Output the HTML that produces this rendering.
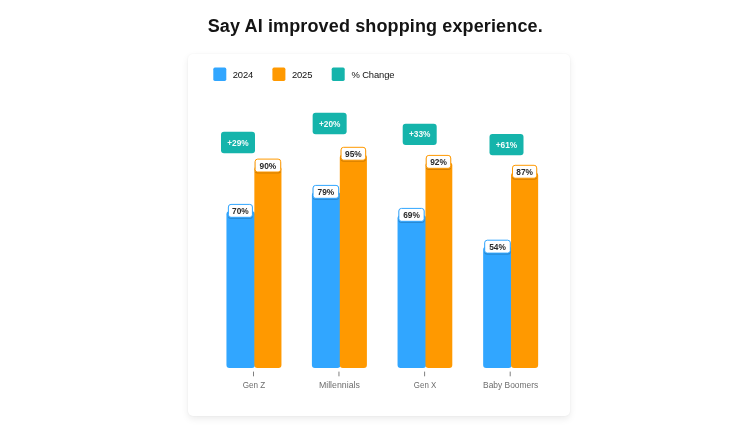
<!DOCTYPE html>
<html lang="en"><head><meta charset="utf-8"><title>Say AI improved shopping experience.</title>
<style>
html,body{margin:0;padding:0;}
body{width:750px;height:428px;background:#fff;position:relative;overflow:hidden;font-family:"Liberation Sans",sans-serif;}
h1{position:absolute;margin:0;white-space:nowrap;font-weight:bold;color:#141414;}
.card{position:absolute;left:188px;top:54px;width:381.5px;height:362px;background:#fff;border-radius:5px;box-shadow:0 3px 7px rgba(0,0,0,.08),0 0 2px rgba(0,0,0,.05);}
svg{position:absolute;left:0;top:0;}
svg text{font-family:"Liberation Sans",sans-serif;}
.lg{font-size:9.4px;fill:#111;letter-spacing:-0.1px;}
.lt{font-size:8.8px;font-weight:bold;fill:#2a2a2a;text-anchor:middle;}
.bt{font-size:8.3px;font-weight:bold;fill:#f4fcfb;text-anchor:middle;}
.ct{font-size:9.1px;fill:#6e6e6e;text-anchor:middle;}
</style></head><body>
<h1 id="title" style="left:207.7px;top:14.4px;font-size:18px;line-height:24px;letter-spacing:0.13px;">Say AI improved shopping experience.</h1>
<div class="card"></div>
<svg width="750" height="428" viewBox="0 0 750 428">
<rect x="213.3" y="67.6" width="13" height="13.3" rx="1.6" fill="#31a6ff"/><text class="lg" x="232.7" y="77.9">2024</text>
<rect x="272.4" y="67.6" width="13" height="13.3" rx="1.6" fill="#ff9900"/><text class="lg" x="291.9" y="77.9">2025</text>
<rect x="331.7" y="67.6" width="13" height="13.3" rx="1.6" fill="#15b4ab"/><text class="lg" x="351.4" y="77.9">% Change</text>
<rect x="226.45" y="211.30" width="28.5" height="156.60" rx="3" fill="#31a6ff"/>
<rect x="254.35" y="166.20" width="27.1" height="201.70" rx="3" fill="#ff9900"/>
<rect x="227.90" y="205.00" width="25.0" height="13.9" rx="3" fill="#000" opacity=".17"/><rect x="228.40" y="204.40" width="24.0" height="12.9" rx="2.6" fill="#fff" stroke="#31a6ff" stroke-width="1"/><text class="lt" x="240.40" y="214.10" textLength="16.7" lengthAdjust="spacingAndGlyphs">70%</text>
<rect x="254.60" y="159.70" width="26.6" height="13.9" rx="3" fill="#000" opacity=".17"/><rect x="255.10" y="159.10" width="25.6" height="12.9" rx="2.6" fill="#fff" stroke="#ff9900" stroke-width="1"/><text class="lt" x="267.90" y="168.80" textLength="16.7" lengthAdjust="spacingAndGlyphs">90%</text>
<rect x="221.0" y="131.85" width="34" height="21.3" rx="3" fill="#15b4ab"/><text class="bt" x="238.00" y="145.60">+29%</text>
<rect x="253.00" y="371.6" width="1" height="4.7" fill="#808080"/>
<text class="ct" x="253.95" y="388.1" textLength="22.6" lengthAdjust="spacingAndGlyphs">Gen Z</text>
<rect x="311.90" y="192.30" width="28.5" height="175.60" rx="3" fill="#31a6ff"/>
<rect x="339.80" y="154.40" width="27.1" height="213.50" rx="3" fill="#ff9900"/>
<rect x="312.55" y="186.00" width="26.6" height="13.9" rx="3" fill="#000" opacity=".17"/><rect x="313.05" y="185.40" width="25.6" height="12.9" rx="2.6" fill="#fff" stroke="#31a6ff" stroke-width="1"/><text class="lt" x="325.85" y="195.10" textLength="16.7" lengthAdjust="spacingAndGlyphs">79%</text>
<rect x="340.55" y="147.90" width="25.6" height="13.9" rx="3" fill="#000" opacity=".17"/><rect x="341.05" y="147.30" width="24.6" height="12.9" rx="2.6" fill="#fff" stroke="#ff9900" stroke-width="1"/><text class="lt" x="353.35" y="157.00" textLength="16.7" lengthAdjust="spacingAndGlyphs">95%</text>
<rect x="312.65" y="112.85" width="34" height="21.3" rx="3" fill="#15b4ab"/><text class="bt" x="329.65" y="126.60">+20%</text>
<rect x="338.45" y="371.6" width="1" height="4.7" fill="#808080"/>
<text class="ct" x="339.40" y="388.1" textLength="41.0" lengthAdjust="spacingAndGlyphs">Millennials</text>
<rect x="397.55" y="215.30" width="28.5" height="152.60" rx="3" fill="#31a6ff"/>
<rect x="425.45" y="162.50" width="26.85" height="205.40" rx="3" fill="#ff9900"/>
<rect x="398.35" y="209.00" width="26.3" height="13.9" rx="3" fill="#000" opacity=".17"/><rect x="398.85" y="208.40" width="25.3" height="12.9" rx="2.6" fill="#fff" stroke="#31a6ff" stroke-width="1"/><text class="lt" x="411.50" y="218.10" textLength="16.7" lengthAdjust="spacingAndGlyphs">69%</text>
<rect x="425.73" y="156.00" width="25.5" height="13.9" rx="3" fill="#000" opacity=".17"/><rect x="426.23" y="155.40" width="24.5" height="12.9" rx="2.6" fill="#fff" stroke="#ff9900" stroke-width="1"/><text class="lt" x="438.48" y="165.10" textLength="16.7" lengthAdjust="spacingAndGlyphs">92%</text>
<rect x="402.7" y="123.65" width="34" height="21.3" rx="3" fill="#15b4ab"/><text class="bt" x="419.70" y="137.40">+33%</text>
<rect x="424.10" y="371.6" width="1" height="4.7" fill="#808080"/>
<text class="ct" x="425.05" y="388.1" textLength="22.4" lengthAdjust="spacingAndGlyphs">Gen X</text>
<rect x="483.15" y="246.80" width="28.5" height="121.10" rx="3" fill="#31a6ff"/>
<rect x="511.05" y="172.40" width="27.1" height="195.50" rx="3" fill="#ff9900"/>
<rect x="484.20" y="240.80" width="26.6" height="13.9" rx="3" fill="#000" opacity=".17"/><rect x="484.70" y="240.20" width="25.6" height="12.9" rx="2.6" fill="#fff" stroke="#31a6ff" stroke-width="1"/><text class="lt" x="497.50" y="249.90" textLength="16.7" lengthAdjust="spacingAndGlyphs">54%</text>
<rect x="512.00" y="165.90" width="25.2" height="13.9" rx="3" fill="#000" opacity=".17"/><rect x="512.50" y="165.30" width="24.2" height="12.9" rx="2.6" fill="#fff" stroke="#ff9900" stroke-width="1"/><text class="lt" x="524.60" y="175.00" textLength="16.7" lengthAdjust="spacingAndGlyphs">87%</text>
<rect x="489.5" y="134.00" width="34" height="21.3" rx="3" fill="#15b4ab"/><text class="bt" x="506.50" y="147.75">+61%</text>
<rect x="509.70" y="371.6" width="1" height="4.7" fill="#808080"/>
<text class="ct" x="510.65" y="388.1" textLength="55.2" lengthAdjust="spacingAndGlyphs">Baby Boomers</text>
</svg>
</body></html>
